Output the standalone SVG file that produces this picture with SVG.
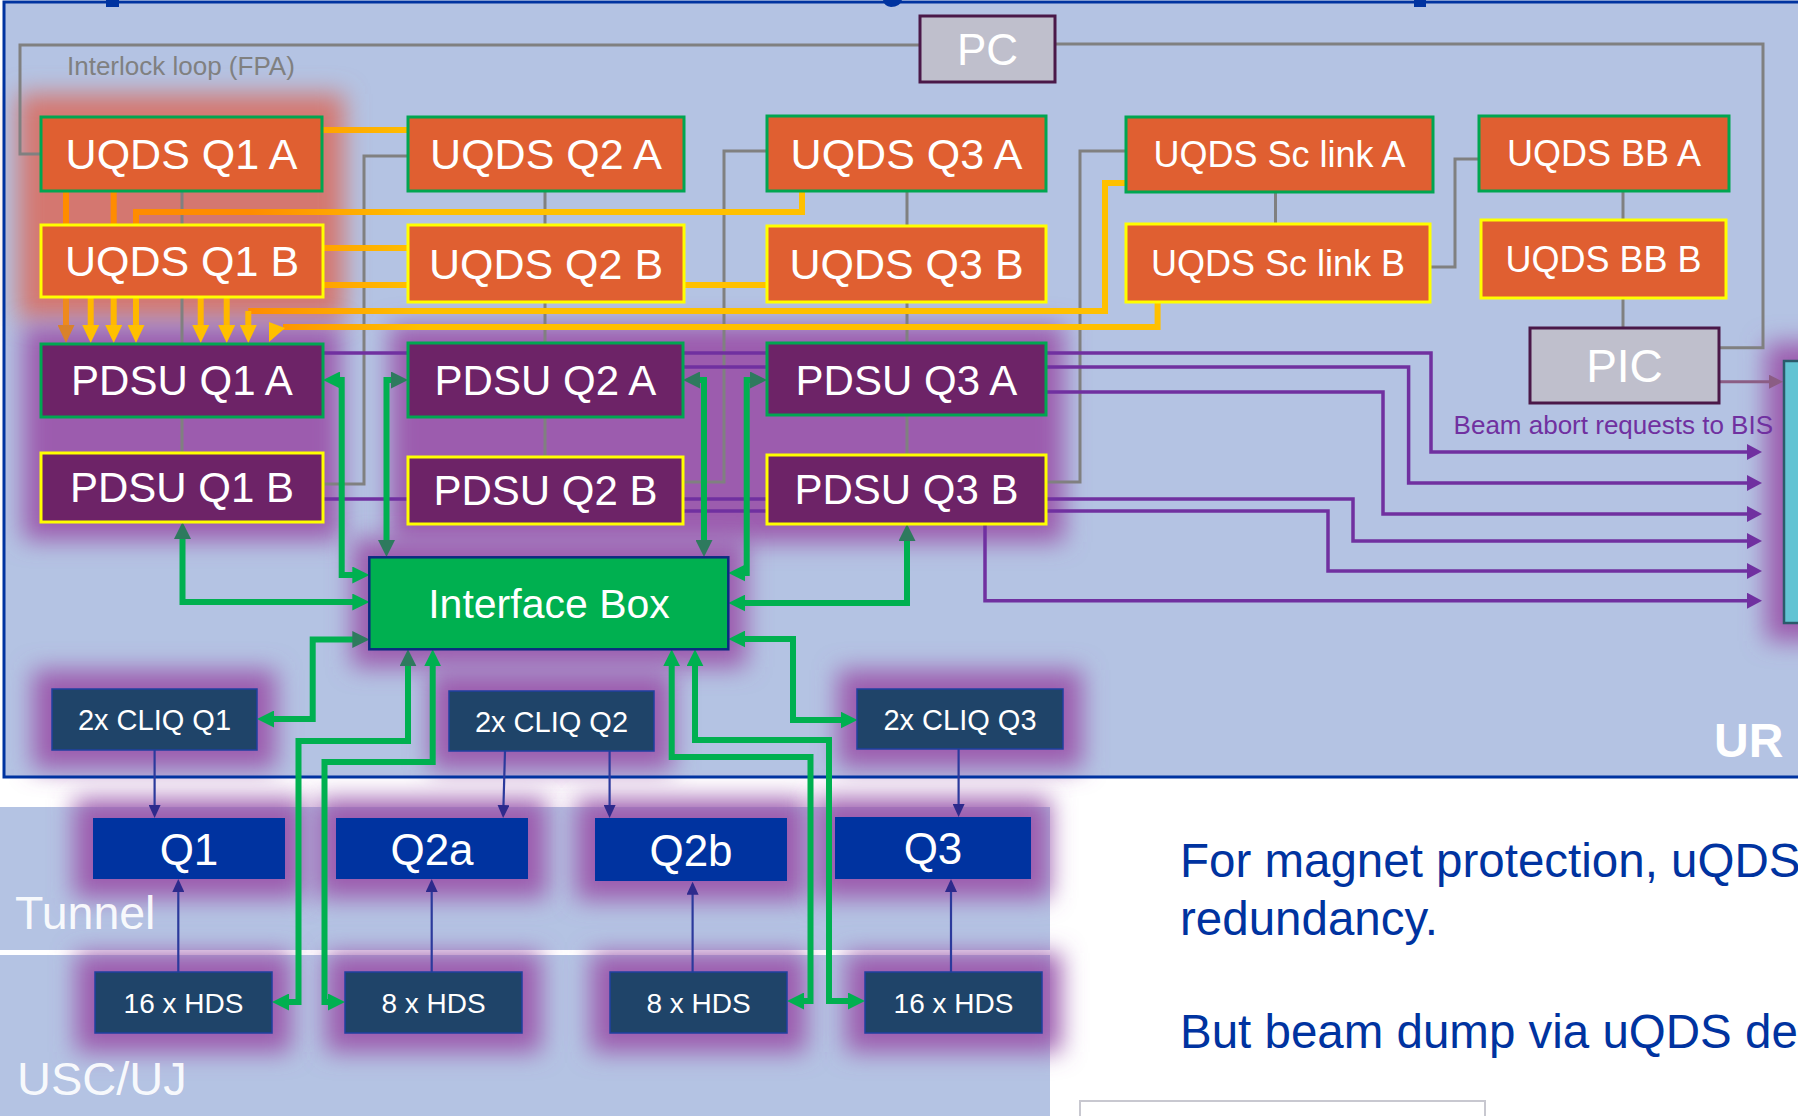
<svg xmlns="http://www.w3.org/2000/svg" width="1798" height="1116" viewBox="0 0 1798 1116">
<style>
text{font-family:"Liberation Sans",Arial,sans-serif}
.lbl{fill:#fff;text-anchor:middle}
.uq{fill:#e05f31}
.pd{fill:#6d2367}
.sA{stroke:#00a651;stroke-width:3}
.sB{stroke:#ffff00;stroke-width:3}
.dk{fill:#1f4469;stroke:#2040a0;stroke-width:1.5}
.mq{fill:#0033a0}
.gy{fill:#bfbfcc;stroke:#4a1848;stroke-width:3}
.gray{fill:none;stroke:#808080;stroke-width:3}
.grn{fill:none;stroke:#00b050;stroke-width:6}
.org{fill:none;stroke:url(#og);stroke-width:6}
.yel{fill:none;stroke:#ffb800;stroke-width:6}
.pur{fill:none;stroke:#7030a0;stroke-width:3.5}
.blu{fill:none;stroke:#2b3a9c;stroke-width:2.2}
.glow{fill:#9c5cae;filter:url(#blur)}
</style>
<defs>
<filter id="blur" x="-50%" y="-50%" width="200%" height="200%"><feGaussianBlur stdDeviation="12"/></filter>
<linearGradient id="og" gradientUnits="userSpaceOnUse" x1="250" y1="0" x2="420" y2="0"><stop offset="0" stop-color="#ff8c00"/><stop offset="1" stop-color="#ffc000"/></linearGradient>
<marker id="gA" markerUnits="userSpaceOnUse" viewBox="0 0 17 17" markerWidth="17" markerHeight="17" refX="7" refY="8.5" orient="auto-start-reverse"><path d="M0,0L17,8.5L0,17z" fill="#00b050"/></marker>
<marker id="gD" markerUnits="userSpaceOnUse" viewBox="0 0 17 17" markerWidth="17" markerHeight="17" refX="7" refY="8.5" orient="auto-start-reverse"><path d="M0,0L17,8.5L0,17z" fill="#2e7a5e"/></marker>
<marker id="oA" markerUnits="userSpaceOnUse" viewBox="0 0 18 17" markerWidth="18" markerHeight="17" refX="8" refY="8.5" orient="auto"><path d="M0,0L18,8.5L0,17z" fill="#ffc000"/></marker>
<marker id="oD" markerUnits="userSpaceOnUse" viewBox="0 0 18 17" markerWidth="18" markerHeight="17" refX="8" refY="8.5" orient="auto"><path d="M0,0L18,8.5L0,17z" fill="#d9822b"/></marker>
<marker id="pA" markerUnits="userSpaceOnUse" viewBox="0 0 15 16" markerWidth="15" markerHeight="16" refX="7" refY="8" orient="auto"><path d="M0,0L15,8L0,16z" fill="#7030a0"/></marker>
<marker id="bA" markerUnits="userSpaceOnUse" viewBox="0 0 13 12" markerWidth="13" markerHeight="12" refX="10" refY="6" orient="auto"><path d="M0,0L13,6L0,12z" fill="#2d2a8c"/></marker>
<marker id="yA" markerUnits="userSpaceOnUse" viewBox="0 0 14 14" markerWidth="14" markerHeight="14" refX="6" refY="7" orient="auto"><path d="M0,0L14,7L0,14z" fill="#8b5d84"/></marker>
</defs>

<rect x="0" y="0" width="1798" height="1116" fill="#fff"/>
<rect x="4" y="2" width="1800" height="775" fill="#b4c3e3"/>
<rect x="0" y="807" width="1050" height="309" fill="#b4c3e3"/>
<rect x="0" y="950" width="1050" height="5" fill="#fff"/>

<g id="glows">
<rect class="glow" x="18" y="94" width="326" height="226" style="fill:#d4776f"/>
<rect class="glow" x="23" y="326" width="318" height="214"/>
<rect class="glow" x="390" y="325" width="674" height="217"/>
<rect class="glow" x="352" y="539" width="394" height="128"/>
<rect class="glow" x="33" y="670" width="243" height="99"/>
<rect class="glow" x="430" y="672" width="243" height="98"/>
<rect class="glow" x="838" y="670" width="244" height="98"/>
<rect class="glow" x="74" y="799" width="230" height="99"/>
<rect class="glow" x="317" y="799" width="230" height="99"/>
<rect class="glow" x="576" y="799" width="230" height="101"/>
<rect class="glow" x="816" y="798" width="234" height="100"/>
<rect class="glow" x="76" y="953" width="215" height="99"/>
<rect class="glow" x="326" y="953" width="215" height="99"/>
<rect class="glow" x="591" y="953" width="215" height="99"/>
<rect class="glow" x="846" y="953" width="215" height="99"/>
<rect class="glow" x="1766" y="343" width="64" height="298"/>
</g>

<rect x="4" y="2" width="1800" height="775" fill="none" stroke="#0033a0" stroke-width="3"/>
<rect x="106" y="0" width="13" height="7" fill="#0033a0"/>
<path d="M883,0H902Q900,7 891,7Q884,6 883,0z" fill="#0033a0"/>
<rect x="1414" y="0" width="12" height="7" fill="#0033a0"/>

<g id="connectors">
<g id="interlock">
<path class="gray" d="M41,154H20V45H920"/>
<path class="gray" d="M1055,44H1763V347.7H1719"/>
<path class="gray" d="M182,191V453"/>
<path class="gray" d="M408,156H364V484H323"/>
<path class="gray" d="M545,191V457"/>
<path class="gray" d="M767,151H724V482H683"/>
<path class="gray" d="M907,191V455"/>
<path class="gray" d="M1126,151H1080V482H1046"/>
<path class="gray" d="M1275.5,192V224"/>
<path class="gray" d="M1430,267H1455V159H1479"/>
<path class="gray" d="M1623,191V328"/>
<path d="M1719,381.7H1775" fill="none" stroke="#8b5d84" stroke-width="3" marker-end="url(#yA)"/>
</g>
<g id="orange">
<path class="org" d="M322,130H408"/>
<path fill="none" stroke="#ff8c00" stroke-width="6" d="M66,191V225M113.7,191V225"/>
<path class="org" d="M802,191V212H136V225"/>
<path class="org" d="M323,248H408M323,285H408"/>
<path class="org" d="M684,285H767"/>
<path fill="none" stroke="#ee8a1e" stroke-width="6" d="M66,297V333" marker-end="url(#oD)"/>
<path class="yel" d="M90.7,297V333" marker-end="url(#oA)"/>
<path class="yel" d="M113.7,297V333" marker-end="url(#oA)"/>
<path class="yel" d="M136,297V333" marker-end="url(#oA)"/>
<path class="yel" d="M200.7,297V333" marker-end="url(#oA)"/>
<path class="yel" d="M226.7,297V333" marker-end="url(#oA)"/>
<path class="org" d="M1126,183H1105V311H248.3"/>
<path class="yel" d="M248.3,311V333" marker-end="url(#oA)"/>
<path class="org" d="M1157.6,302V327H283"/>
<polygon points="269,322 269,342 285,328" fill="#ffc000"/>
</g>
<g id="beam-abort">
<path class="pur" d="M323,353H1431V452H1754" marker-end="url(#pA)"/>
<path class="pur" d="M683,367H1408.6V483H1754" marker-end="url(#pA)"/>
<path class="pur" d="M1046,392H1383V514H1754" marker-end="url(#pA)"/>
<path class="pur" d="M323,499H1353V541H1754" marker-end="url(#pA)"/>
<path class="pur" d="M683,511H1328V571H1754" marker-end="url(#pA)"/>
<path class="pur" d="M985,524V600.7H1754" marker-end="url(#pA)"/>
</g>
<g id="green">
<path class="grn" d="M333,380H341.7V575H359.3" marker-start="url(#gA)" marker-end="url(#gA)"/>
<path class="grn" d="M182.5,532V602H359.3" marker-start="url(#gD)" marker-end="url(#gA)"/>
<path class="grn" d="M398,380H386.5V547" marker-start="url(#gD)" marker-end="url(#gD)"/>
<path class="grn" d="M267,719H312.7V639.5H359.3" marker-start="url(#gA)" marker-end="url(#gD)"/>
<path class="grn" d="M408,659.3V741H298.5V1002H282" marker-start="url(#gD)" marker-end="url(#gA)"/>
<path class="grn" d="M432.7,659.3V762H324.5V1002H335" marker-start="url(#gA)" marker-end="url(#gA)"/>
<path class="grn" d="M693,380H704V547" marker-start="url(#gD)" marker-end="url(#gD)"/>
<path class="grn" d="M757,380H746.7V573H738.3" marker-start="url(#gD)" marker-end="url(#gA)"/>
<path class="grn" d="M907,534V603H738.3" marker-start="url(#gD)" marker-end="url(#gA)"/>
<path class="grn" d="M738.3,639H793V720H847.5" marker-start="url(#gA)" marker-end="url(#gA)"/>
<path class="grn" d="M671.7,659.3V757H810.5V1001H797" marker-start="url(#gA)" marker-end="url(#gA)"/>
<path class="grn" d="M695,659.3V740H829V1001H855" marker-start="url(#gA)" marker-end="url(#gA)"/>
</g>
<g id="blue">
<path class="blu" d="M154.6,750V815" marker-end="url(#bA)"/>
<path class="blu" d="M505,751L503.2,815" marker-end="url(#bA)"/>
<path class="blu" d="M609.6,751V815" marker-end="url(#bA)"/>
<path class="blu" d="M958.6,749V814" marker-end="url(#bA)"/>
<path class="blu" d="M178.3,972V882" marker-end="url(#bA)"/>
<path class="blu" d="M431.7,972V882" marker-end="url(#bA)"/>
<path class="blu" d="M692.6,972V884.7" marker-end="url(#bA)"/>
<path class="blu" d="M951,972V882" marker-end="url(#bA)"/>
</g>
</g>

<g id="nodes">
<g id="pc"><rect class="gy" x="920" y="16" width="135" height="66"/><text class="lbl" x="987.5" y="64.6" font-size="44">PC</text></g>
<g id="pic"><rect class="gy" x="1530" y="328" width="189" height="75"/><text class="lbl" x="1624.5" y="382" font-size="46">PIC</text></g>
<g id="uqds-q1a"><rect class="uq sA" x="41" y="117" width="281" height="74"/><text class="lbl" x="181.5" y="169.3" font-size="43">UQDS Q1 A</text></g>
<g id="uqds-q1b"><rect class="uq sB" x="41" y="225" width="282" height="72"/><text class="lbl" x="182" y="276.3" font-size="43">UQDS Q1 B</text></g>
<g id="uqds-q2a"><rect class="uq sA" x="408" y="117" width="276" height="74"/><text class="lbl" x="546" y="169.3" font-size="43">UQDS Q2 A</text></g>
<g id="uqds-q2b"><rect class="uq sB" x="408" y="225" width="276" height="77"/><text class="lbl" x="546" y="278.8" font-size="43">UQDS Q2 B</text></g>
<g id="uqds-q3a"><rect class="uq sA" x="767" y="116" width="279" height="75"/><text class="lbl" x="906.5" y="168.8" font-size="43">UQDS Q3 A</text></g>
<g id="uqds-q3b"><rect class="uq sB" x="767" y="226" width="279" height="76"/><text class="lbl" x="906.5" y="279.3" font-size="43">UQDS Q3 B</text></g>
<g id="uqds-sca"><rect class="uq sA" x="1126" y="117" width="307" height="75"/><text class="lbl" x="1279.5" y="167.3" font-size="36">UQDS Sc link A</text></g>
<g id="uqds-scb"><rect class="uq sB" x="1126" y="224" width="304" height="78"/><text class="lbl" x="1278" y="275.8" font-size="36">UQDS Sc link B</text></g>
<g id="uqds-bba"><rect class="uq sA" x="1479" y="116" width="250" height="75"/><text class="lbl" x="1604" y="166.3" font-size="36">UQDS BB A</text></g>
<g id="uqds-bbb"><rect class="uq sB" x="1481" y="220" width="245" height="78"/><text class="lbl" x="1603.5" y="271.8" font-size="36">UQDS BB B</text></g>
<g id="pdsu-q1a"><rect class="pd sA" x="41" y="344" width="282" height="73"/><text class="lbl" x="182" y="395.4" font-size="42">PDSU Q1 A</text></g>
<g id="pdsu-q1b"><rect class="pd sB" x="41" y="453" width="282" height="69"/><text class="lbl" x="182" y="502.4" font-size="42">PDSU Q1 B</text></g>
<g id="pdsu-q2a"><rect class="pd sA" x="408" y="343" width="275" height="74"/><text class="lbl" x="545.5" y="395" font-size="42">PDSU Q2 A</text></g>
<g id="pdsu-q2b"><rect class="pd sB" x="408" y="457" width="275" height="67"/><text class="lbl" x="545.5" y="505.4" font-size="42">PDSU Q2 B</text></g>
<g id="pdsu-q3a"><rect class="pd sA" x="767" y="343" width="279" height="72"/><text class="lbl" x="906.5" y="394.5" font-size="42">PDSU Q3 A</text></g>
<g id="pdsu-q3b"><rect class="pd sB" x="767" y="455" width="279" height="69"/><text class="lbl" x="906.5" y="504.4" font-size="42">PDSU Q3 B</text></g>
<g id="interface-box"><rect x="369.3" y="557.3" width="359" height="92" fill="#00b050" stroke="#0b2a80" stroke-width="2.5"/><text class="lbl" x="549" y="618" font-size="41">Interface Box</text></g>
<g id="cliq-q1"><rect class="dk" x="52" y="689" width="205" height="61"/><text class="lbl" x="154.5" y="730" font-size="29">2x CLIQ Q1</text></g>
<g id="cliq-q2"><rect class="dk" x="449" y="691" width="205" height="60"/><text class="lbl" x="551.5" y="731.5" font-size="29">2x CLIQ Q2</text></g>
<g id="cliq-q3"><rect class="dk" x="857" y="689" width="206" height="60"/><text class="lbl" x="960" y="729.5" font-size="29">2x CLIQ Q3</text></g>
<g id="q1"><rect class="mq" x="93" y="818" width="192" height="61"/><text class="lbl" x="189" y="864.5" font-size="44">Q1</text></g>
<g id="q2a"><rect class="mq" x="336" y="818" width="192" height="61"/><text class="lbl" x="432" y="864.5" font-size="44">Q2a</text></g>
<g id="q2b"><rect class="mq" x="595" y="818" width="192" height="63"/><text class="lbl" x="691" y="865.5" font-size="44">Q2b</text></g>
<g id="q3"><rect class="mq" x="835" y="817" width="196" height="62"/><text class="lbl" x="933" y="864" font-size="44">Q3</text></g>
<g id="hds-q1"><rect class="dk" x="95" y="972" width="177" height="61"/><text class="lbl" x="183.5" y="1012.5" font-size="28">16 x HDS</text></g>
<g id="hds-q2a"><rect class="dk" x="345" y="972" width="177" height="61"/><text class="lbl" x="433.5" y="1012.5" font-size="28">8 x HDS</text></g>
<g id="hds-q2b"><rect class="dk" x="610" y="972" width="177" height="61"/><text class="lbl" x="698.5" y="1012.5" font-size="28">8 x HDS</text></g>
<g id="hds-q3"><rect class="dk" x="865" y="972" width="177" height="61"/><text class="lbl" x="953.5" y="1012.5" font-size="28">16 x HDS</text></g>
<g id="bis"><rect x="1784" y="361" width="30" height="262" fill="#62c3d3" stroke="#2a5a6a" stroke-width="2.5"/></g>
</g>

<g id="labels">
<text x="67" y="75" font-size="26" fill="#808080">Interlock loop (FPA)</text>
<text x="1453.6" y="434" font-size="26" fill="#7030a0">Beam abort requests to BIS</text>
<text x="1714" y="757" font-size="48" font-weight="bold" fill="#fff">UR</text>
<text x="15" y="929" font-size="46.5" fill="#fff" fill-opacity="0.92">Tunnel</text>
<text x="17" y="1095" font-size="47" fill="#fff" fill-opacity="0.92">USC/UJ</text>
<text x="1180" y="877" font-size="47.5" fill="#0033a0">For magnet protection, uQDS</text>
<text x="1180" y="935" font-size="47.5" fill="#0033a0">redundancy.</text>
<text x="1180" y="1048" font-size="47.5" fill="#0033a0">But beam dump via uQDS de</text>
<rect x="1080" y="1101" width="405" height="30" fill="#fff" stroke="#c8c8d0" stroke-width="2"/>
</g>
</svg>
